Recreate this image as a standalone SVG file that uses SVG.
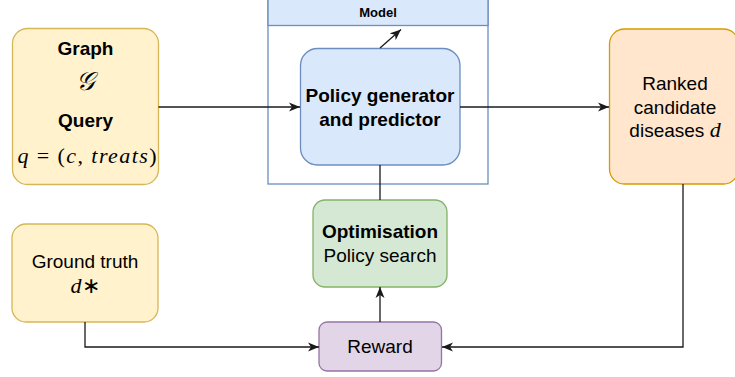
<svg xmlns="http://www.w3.org/2000/svg" width="735" height="377" viewBox="0 0 735 377">
  <style>
    .lbl { font-family: "Liberation Sans", Arial, sans-serif; font-size: 19px; fill: #000; text-anchor: middle; }
    .b { font-weight: bold; }
    .math { font-family: "Liberation Serif", "Times New Roman", serif; font-size: 22px; fill: #000; text-anchor: middle; }
    .it { font-style: italic; }
    .edge { fill: none; stroke: #1a1a1a; stroke-width: 1.3; }
    .yellow { fill: #fff2cc; stroke: #d6b656; stroke-width: 1.3; }
    .blue { fill: #dae8fc; stroke: #6c8ebf; stroke-width: 1.3; }
    .orange { fill: #ffe6cc; stroke: #d79b00; stroke-width: 1.3; }
    .green { fill: #d5e8d4; stroke: #82b366; stroke-width: 1.3; }
    .purple { fill: #e1d5e7; stroke: #9673a6; stroke-width: 1.3; }
    .frame { fill: #ffffff; stroke: #6c8ebf; stroke-width: 1.3; }
  </style>
  <defs>
    <marker id="arrow" markerUnits="userSpaceOnUse" markerWidth="12" markerHeight="10" refX="11" refY="5" orient="auto">
      <path d="M0,0.5 L11,5 L0,9.5 L3,5 Z" fill="#1a1a1a"/>
    </marker>
  </defs>

  <!-- Model container with header band -->
  <g id="model">
    <rect class="frame" x="268" y="-10" width="220" height="194"/>
    <rect class="blue" x="268" y="-10" width="220" height="35.5"/>
    <text class="lbl b" x="378" y="17" style="font-size:13px">Model</text>
  </g>

  <g id="graph-query">
    <rect class="yellow" x="12.5" y="28.5" width="146" height="156" rx="15"/>
    <text class="lbl b" x="85.5" y="55">Graph</text>
    <text class="math it" x="85.5" y="90" style="font-size:26px">𝒢</text>
    <text class="lbl b" x="85.5" y="127">Query</text>
    <text class="math" x="87" y="163" textLength="139" lengthAdjust="spacing"><tspan class="it">q</tspan> = (<tspan class="it">c</tspan>,<tspan class="it"> treats</tspan>)</text>
  </g>

  <g id="policy">
    <rect class="blue" x="300.5" y="48.5" width="159.5" height="116.5" rx="17"/>
    <text class="lbl b" x="380" y="102">Policy generator</text>
    <text class="lbl b" x="380" y="126">and predictor</text>
  </g>

  <g id="ranked">
    <rect class="orange" x="609.5" y="29" width="129" height="155" rx="15"/>
    <text class="lbl" x="675" y="90">Ranked</text>
    <text class="lbl" x="675" y="114">candidate</text>
    <text class="lbl" x="675" y="137">diseases <tspan class="math it" style="font-size:22px">d</tspan></text>
  </g>

  <g id="ground-truth">
    <rect class="yellow" x="12" y="224" width="146" height="98" rx="14"/>
    <text class="lbl" x="85" y="268">Ground truth</text>
    <text class="math" x="85" y="293"><tspan class="it">d</tspan>∗</text>
  </g>

  <g id="optimisation">
    <rect class="green" x="313" y="200" width="134" height="87" rx="12"/>
    <text class="lbl b" x="380" y="238">Optimisation</text>
    <text class="lbl" x="380" y="262">Policy search</text>
  </g>

  <g id="reward">
    <rect class="purple" x="319" y="322" width="122.5" height="49" rx="8"/>
    <text class="lbl" x="380" y="353">Reward</text>
  </g>

  <g id="connectors">
    <path class="edge" d="M158.5,107 H300" marker-end="url(#arrow)"/>
    <path class="edge" d="M460,107 H609" marker-end="url(#arrow)"/>
    <path class="edge" d="M380,165 V200"/>
    <path class="edge" d="M380,48 L401,29.5" marker-end="url(#arrow)"/>
    <path class="edge" d="M380,322 V287" marker-end="url(#arrow)"/>
    <path class="edge" d="M85,322 V347 H319" marker-end="url(#arrow)"/>
    <path class="edge" d="M683,184 V347 H442" marker-end="url(#arrow)"/>
  </g>
</svg>
